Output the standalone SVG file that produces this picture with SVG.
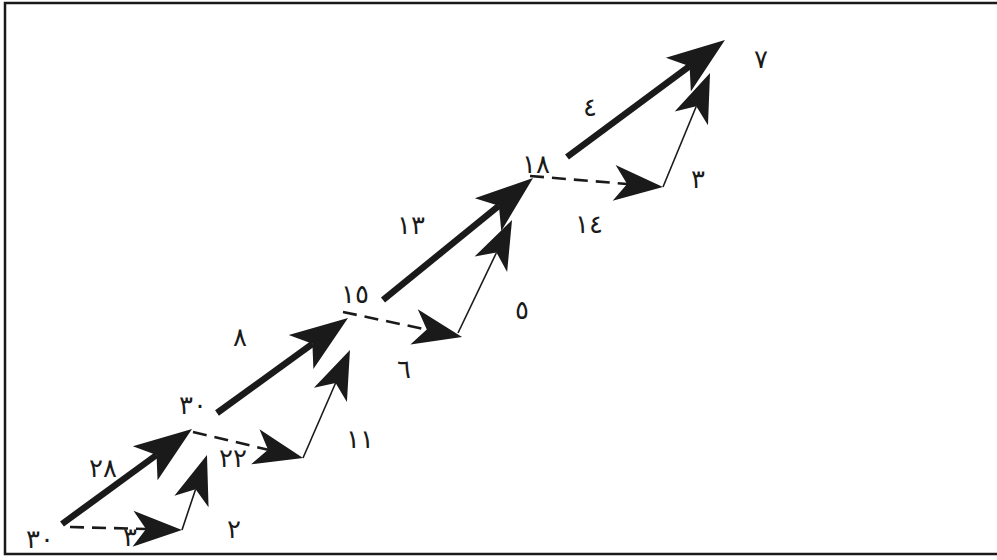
<svg xmlns="http://www.w3.org/2000/svg" width="997" height="560" viewBox="0 0 997 560">
<style>
  text { font-family: "DejaVu Sans", "Noto Sans", sans-serif; font-size: 26px; fill: #1a1a1a; text-anchor: middle; }
  .thick { stroke: #1a1a1a; stroke-width: 6.5; fill: none; marker-end: url(#hThick); }
  .dash { stroke: #1a1a1a; stroke-width: 2.6; fill: none; stroke-dasharray: 14 8; marker-end: url(#hSmall); }
  .thin { stroke: #1a1a1a; stroke-width: 1.6; fill: none; marker-end: url(#hSmall); }
</style>
<defs>
  <marker id="hThick" markerUnits="userSpaceOnUse" markerWidth="60" markerHeight="44" viewBox="0 0 60 44" refX="14" refY="22" orient="auto" overflow="visible">
    <path d="M0,1 L58,22 L0,43 L14,22 Z" fill="#1a1a1a"/>
  </marker>
  <marker id="hSmall" markerUnits="userSpaceOnUse" markerWidth="50" markerHeight="38" viewBox="0 0 50 38" refX="13" refY="19" orient="auto" overflow="visible">
    <path d="M0,1 L49,19 L0,37 L13,19 Z" fill="#1a1a1a"/>
  </marker>
</defs>
<rect x="0" y="0" width="997" height="560" fill="#ffffff"/>
<rect x="5" y="3" width="1000" height="551" fill="none" stroke="#1a1a1a" stroke-width="2.5"/>

<g id="edge-labels">
  <text x="103" y="477">٢٨</text>
  <text x="130" y="546">٣</text>
  <text x="234" y="538">٢</text>
  <text x="233" y="467">٢٢</text>
  <text x="240" y="346">٨</text>
  <text x="404" y="378">٦</text>
  <text x="360" y="448">١١</text>
  <text x="411" y="234">١٣</text>
  <text x="589" y="233">١٤</text>
  <text x="522" y="319">٥</text>
  <text x="590" y="116">٤</text>
  <text x="698" y="188">٣</text>
</g>

<g id="connectors">
  <line class="thick" x1="62" y1="524" x2="156.5" y2="455"/>
  <line class="thick" x1="217" y1="413" x2="312.4" y2="343.8"/>
  <line class="thick" x1="383" y1="300" x2="498.9" y2="205.8"/>
  <line class="thick" x1="567" y1="157" x2="689.6" y2="66.2"/>
  <line class="dash" x1="70" y1="527" x2="146" y2="529"/>
  <line class="dash" x1="193" y1="432" x2="268" y2="449.7"/>
  <line class="dash" x1="343" y1="312" x2="426.8" y2="329.6"/>
  <line class="dash" x1="530" y1="176" x2="627.1" y2="184"/>
  <line class="thin" x1="182" y1="530" x2="195.6" y2="489.2"/>
  <line class="thin" x1="303" y1="458" x2="335.6" y2="383"/>
  <line class="thin" x1="458" y1="333" x2="496.5" y2="252.5"/>
  <line class="thin" x1="663" y1="187" x2="696.3" y2="106.3"/>
</g>

<g id="node-start"><text x="40" y="548">٣٠</text></g>
<g id="node-a"><text x="193" y="414">٣٠</text></g>
<g id="node-b"><text x="355" y="303">١٥</text></g>
<g id="node-c"><text x="536" y="173">١٨</text></g>
<g id="node-end"><text x="761" y="68">٧</text></g>
</svg>
